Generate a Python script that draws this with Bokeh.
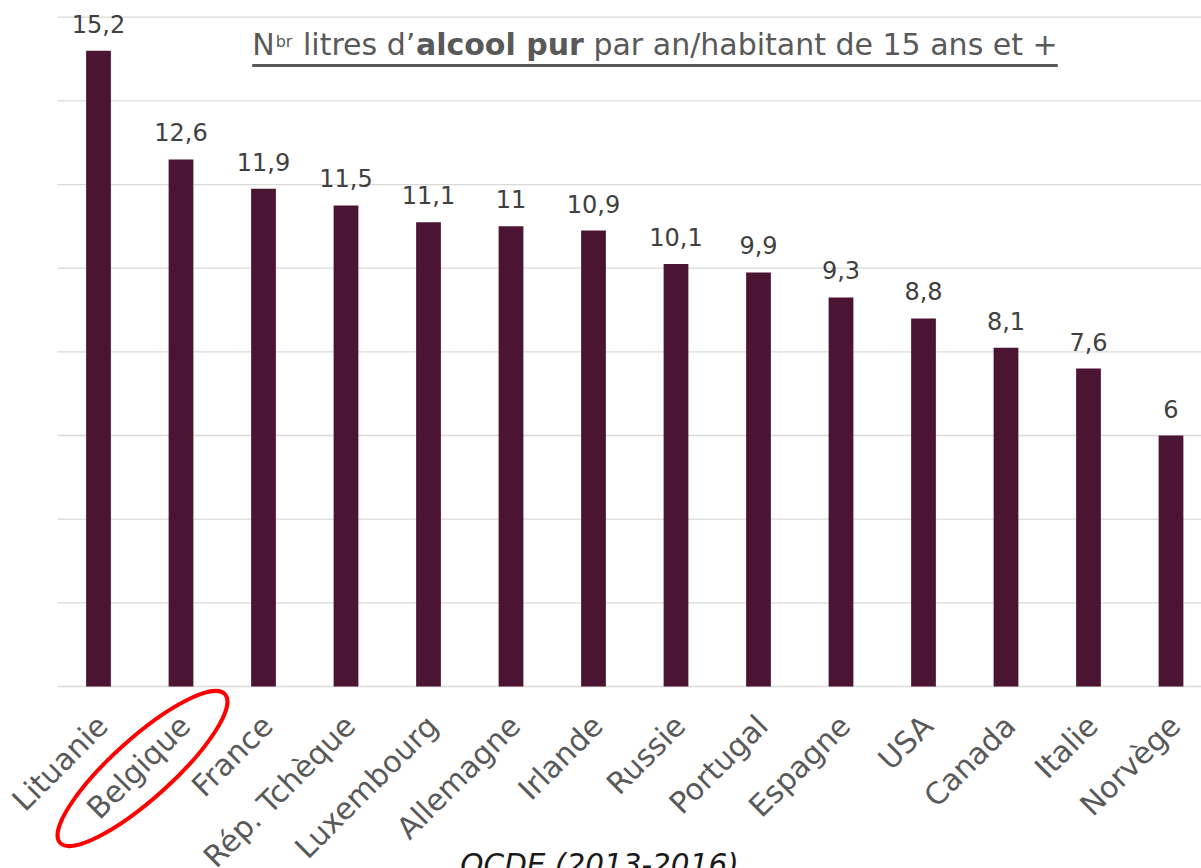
import math
from bokeh.plotting import figure
from bokeh.models import ColumnDataSource, Range1d
from bokeh.core.properties import value
from bokeh.embed import file_html
from bokeh.resources import INLINE

# ---- data ----
countries = ["Lituanie", "Belgique", "France", "Rép. Tchèque", "Luxembourg", "Allemagne",
             "Irlande", "Russie", "Portugal", "Espagne", "USA", "Canada", "Italie", "Norvège"]
litres = [15.2, 12.6, 11.9, 11.5, 11.1, 11.0, 10.9, 10.1, 9.9, 9.3, 8.8, 8.1, 7.6, 6.0]
grid_values = [0, 2, 4, 6, 8, 10, 12, 14, 16]
value_labels = [f"{v:g}".replace(".", ",") for v in litres]
highlighted = "Belgique"
title_parts = [("N", "normal"), ("br", "sup"), (" litres d\u2019", "normal"),
               ("alcool pur", "bold"), (" par an/habitant de 15 ans et +", "normal")]
source_text = "OCDE (2013-2016)"

# ---- layout (page pixels) ----
W, H = 1201, 868
BAR0_PX, PX_X = 98.0, 82.5     # first bar centre, pixels per category
BASE_PX, PX_Y = 686.0, 41.83   # zero line, pixels per litre
GRID_LEFT_PX = 57

def xd(px):
    return (px - BAR0_PX) / PX_X

def yd(py):
    return (BASE_PX - py) / PX_Y

FONT = "DejaVu Sans"
BAR = "#4C1433"
GRAY = "#595959"

p = figure(width=W, height=H, output_backend="svg", toolbar_location=None,
           x_range=Range1d(xd(0), xd(W)), y_range=Range1d(yd(H), yd(0)),
           x_axis_location=None, y_axis_location=None,
           min_border=0, min_border_left=0, min_border_right=0,
           min_border_top=0, min_border_bottom=0)
p.outline_line_color = None
p.grid.visible = False
p.background_fill_color = "white"
p.border_fill_color = "white"

# gridlines
p.segment(x0=[xd(GRID_LEFT_PX)] * len(grid_values), x1=[xd(W + 5)] * len(grid_values),
          y0=grid_values, y1=grid_values, line_color="#D9D9D9", line_width=1.3)

idx = list(range(len(countries)))
src = ColumnDataSource(dict(x=idx, top=litres, lab=value_labels, cat=countries,
                            zero=[0] * len(idx)))
p.vbar(x="x", top="top", bottom=0, width=0.30, source=src, fill_color=BAR, line_color=None)
p.text(x="x", y="top", text="lab", source=src, text_align="center", text_baseline="middle",
       y_offset=-27, text_font=value(FONT), text_font_size="24px", text_color="#404040")

# category labels (rotated 45 degrees)
p.text(x="x", y="zero", text="cat", source=src, angle=math.pi / 4,
       text_align="right", text_baseline="middle", x_offset=4, y_offset=34,
       text_font=value(FONT), text_font_size="30px", text_color=GRAY)

# title made of pieces
reg = {" ": .318, "N": .748, "b": .635, "r": .411, "l": .278, "i": .278, "t": .392, "e": .615,
       "s": .521, "d": .635, "\u2019": .318, "p": .635, "a": .613, "n": .634, "/": .337,
       "h": .634, "1": .636, "5": .636, "+": .838, "c": .55, "o": .612, "u": .634}
bold = {"a": .675, "l": .343, "c": .595, "o": .687, " ": .348, "p": .716, "u": .712, "r": .493}
S, SS = 30, 16
pieces = []
for txt, kind in title_parts:
    table = bold if kind == "bold" else reg
    size = SS if kind == "sup" else S
    lead = len(txt) - len(txt.lstrip(" "))
    lead_w = table[" "] * S * lead
    body = txt.strip(" ")
    body_w = sum(table[c] for c in body) * size + (2 if kind == "sup" else 0)
    pieces.append((body, kind, size, lead_w, body_w))
total = sum(pc[3] + pc[4] for pc in pieces)
cx = (243 + 1066) / 2
start = cx - total / 2
tx, ty, tt, ts, tw = [], [], [], [], []
xpos = start
for body, kind, size, lead_w, body_w in pieces:
    xpos += lead_w
    tx.append(xd(xpos + (1 if kind == "sup" else 0)))
    ty.append(yd(41 if kind == "sup" else 44))
    tt.append(body)
    ts.append(f"{size}px")
    tw.append("bold" if kind == "bold" else "normal")
    xpos += body_w
tsrc = ColumnDataSource(dict(x=tx, y=ty, t=tt, s=ts, w=tw))
p.text(x="x", y="y", text="t", source=tsrc, text_font=value(FONT), text_font_size="s",
       text_font_style="w", text_color=GRAY, text_align="left", text_baseline="middle")
# underline
p.quad(left=[xd(start)], right=[xd(start + total)], top=[yd(63.5)], bottom=[yd(66.5)],
       fill_color=GRAY, line_color=None)

# source note (cut by the bottom edge, as in the original)
p.text(x=[xd(599)], y=[yd(864)], text=[source_text], text_font=value(FONT),
       text_font_size="29.5px", text_font_style="italic", text_color="#1A1A1A",
       text_align="center", text_baseline="middle")

# red ellipse around the highlighted country label
hi = countries.index(highlighted)
p.ellipse(x=[hi + xd(142) - xd(BAR0_PX + PX_X)], y=[yd(768)], width=[222], height=[60],
          width_units="screen", height_units="screen", angle=[math.radians(42)],
          fill_alpha=0, line_color="#FF0000", line_width=4)

open("out.html", "w").write(file_html(p, INLINE))
